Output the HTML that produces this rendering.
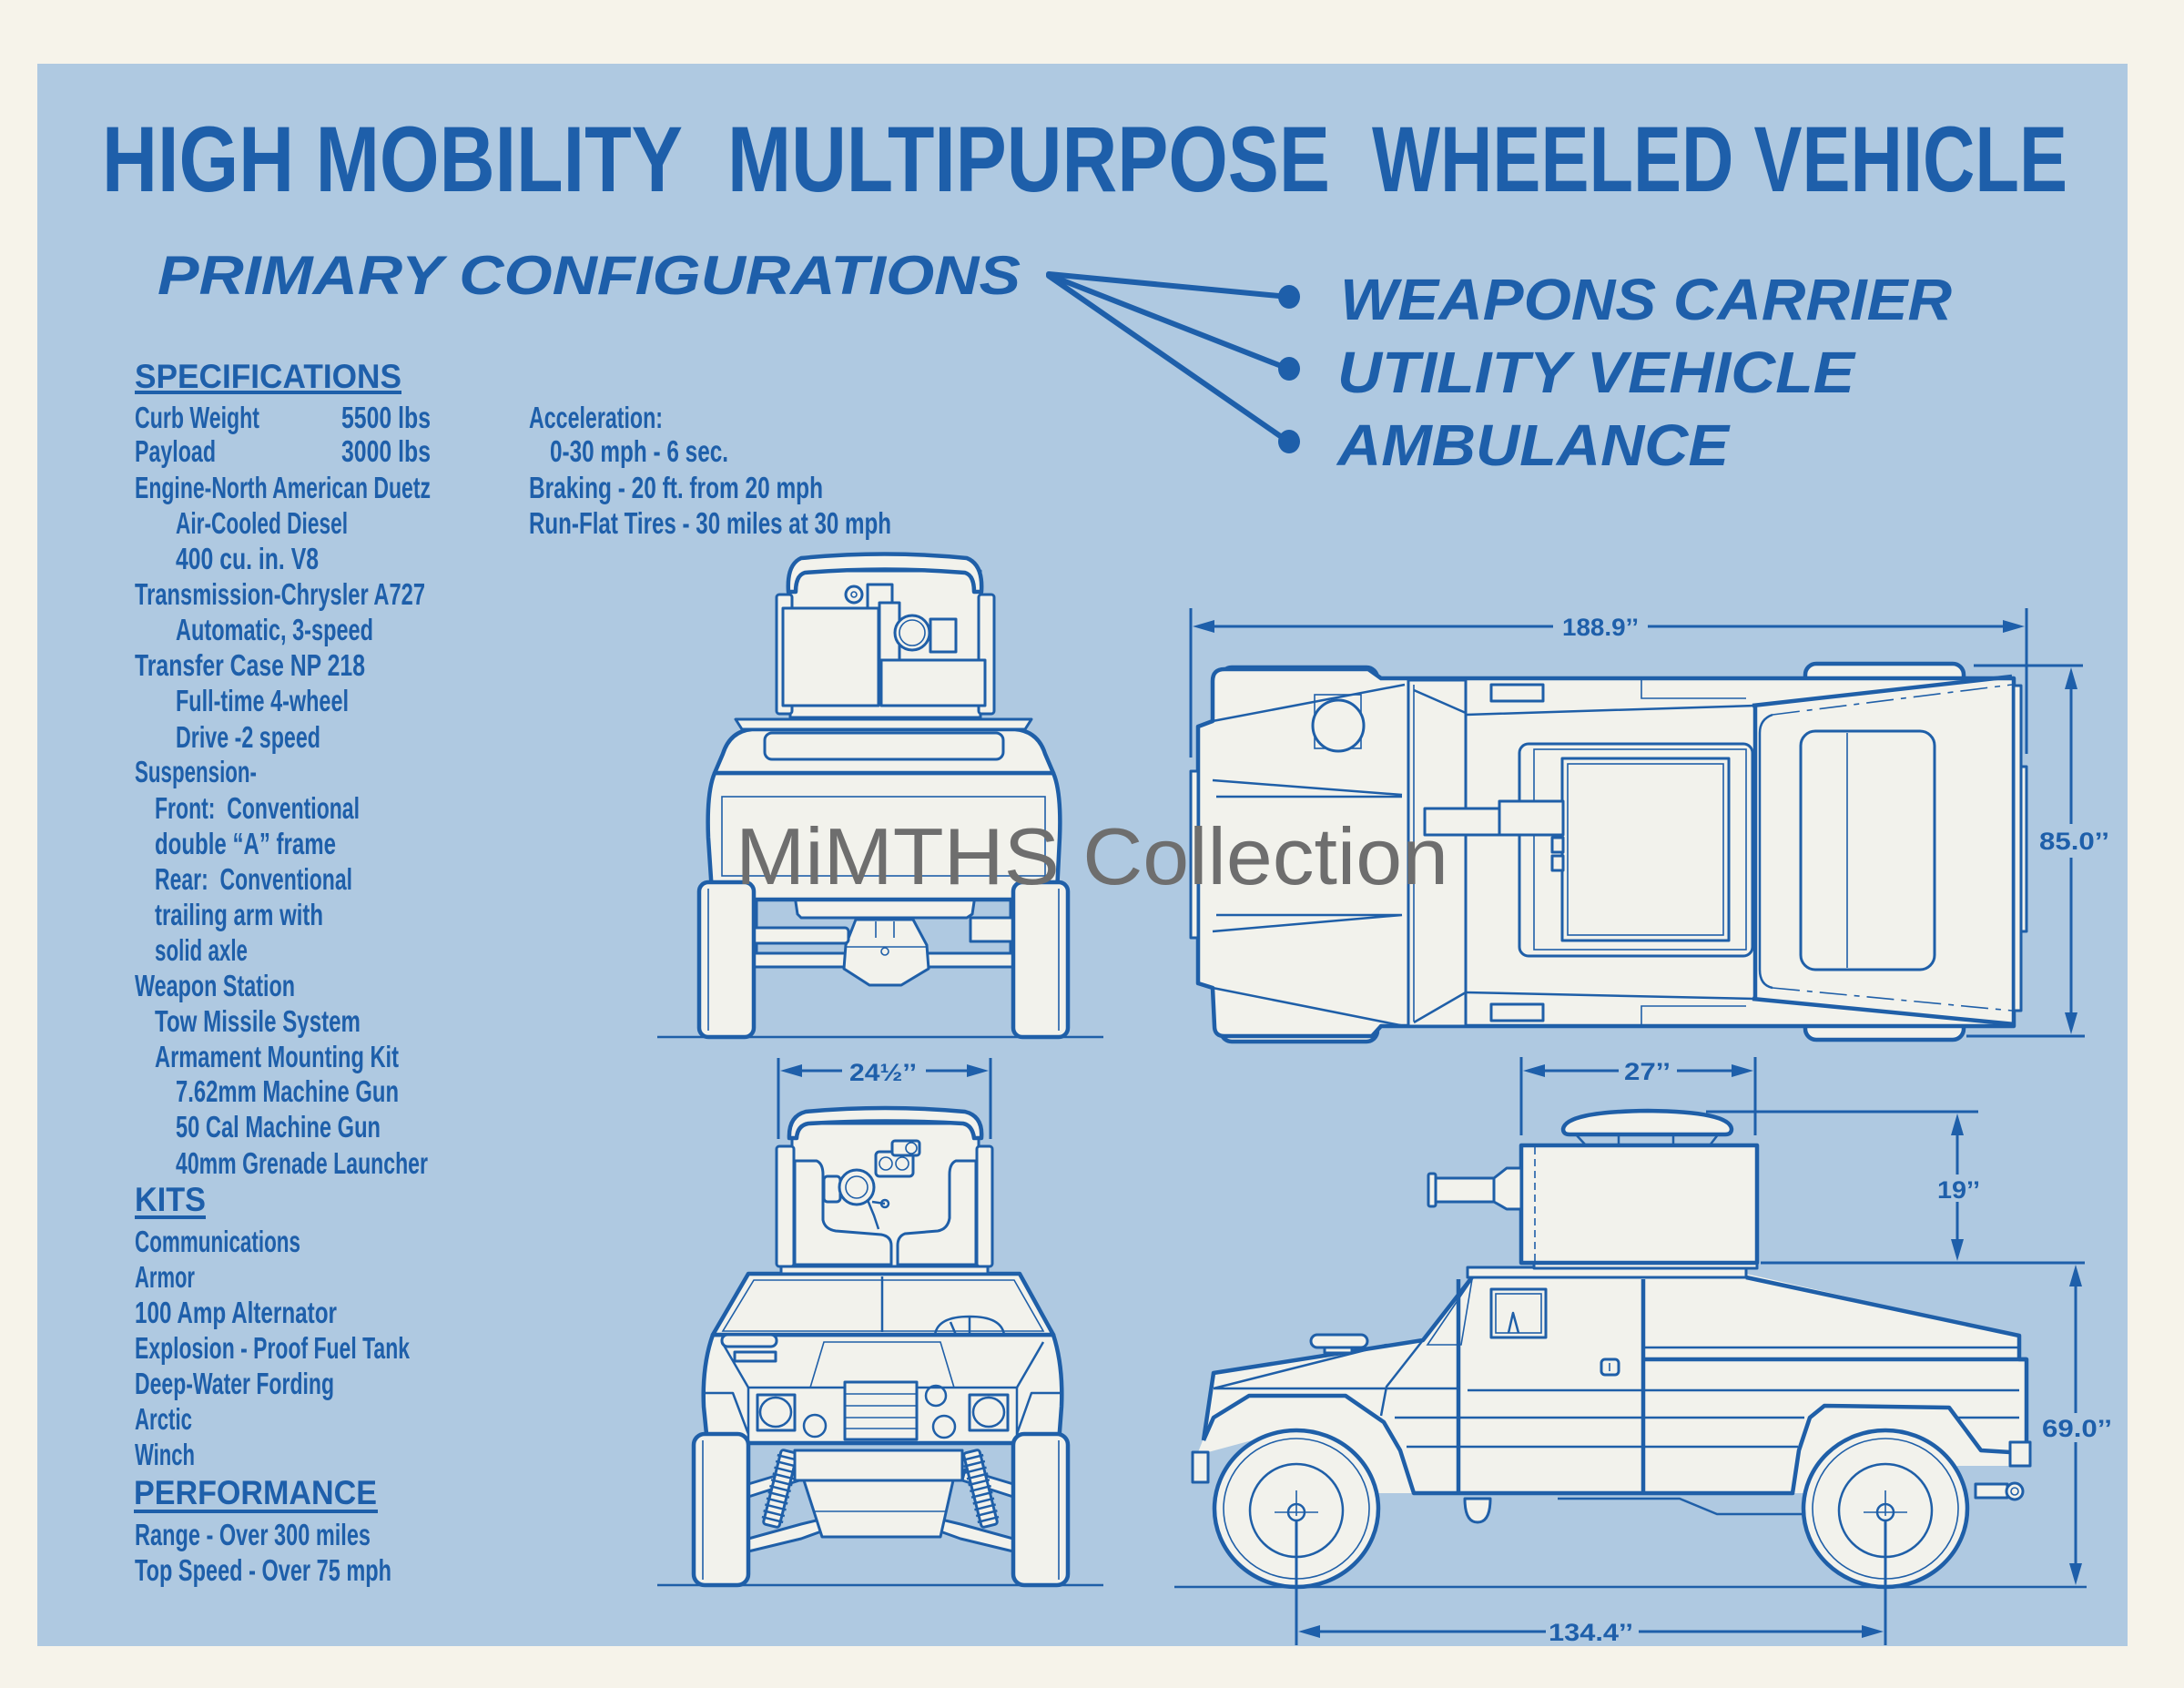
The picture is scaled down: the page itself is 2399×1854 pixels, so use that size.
<!DOCTYPE html>
<html><head><meta charset="utf-8"><title>High Mobility Multipurpose Wheeled Vehicle</title>
<style>
html,body{margin:0;padding:0;background:#f6f3ea;}
svg{display:block;}
text{font-family:"Liberation Sans",Arial,sans-serif;fill:#1e5faa;}
.o{fill:#f2f2ec;stroke:#1f5fa8;stroke-width:4.5;stroke-linejoin:round;}
.f{fill:#f2f2ec;stroke:#1f5fa8;stroke-width:3;stroke-linejoin:round;}
.d{fill:none;stroke:#1f5fa8;stroke-width:2.5;stroke-linejoin:round;}
.t{fill:none;stroke:#1f5fa8;stroke-width:1.6;}
.k{fill:none;stroke:#1f5fa8;stroke-width:4.5;stroke-linejoin:round;}
.w{fill:#f2f2ec;stroke:none;}
.ar{fill:#1e5faa;stroke:none;}
.dm{fill:none;stroke:#1e5faa;stroke-width:3;}
.sp text{font-weight:bold;font-size:33px;}
.hd{font-weight:bold;font-size:37px;}
.dt{font-weight:bold;font-size:27px;}
</style></head><body>
<svg width="2399" height="1854" viewBox="0 0 2399 1854" xmlns="http://www.w3.org/2000/svg">
<rect width="2399" height="1854" fill="#f6f3ea"/>
<rect x="41" y="70" width="2296" height="1738" fill="#afc9e1"/>

<!-- TITLE -->
<g font-weight="bold" font-size="102">
<text x="112" y="210" textLength="638" lengthAdjust="spacingAndGlyphs">HIGH MOBILITY</text>
<text x="799" y="210" textLength="662" lengthAdjust="spacingAndGlyphs">MULTIPURPOSE</text>
<text x="1507" y="210" textLength="764" lengthAdjust="spacingAndGlyphs">WHEELED VEHICLE</text>
</g>
<g font-weight="bold" font-style="italic">
<text x="173" y="323" font-size="60" textLength="948" lengthAdjust="spacingAndGlyphs">PRIMARY CONFIGURATIONS</text>
<text x="1472" y="351" font-size="64" textLength="672" lengthAdjust="spacingAndGlyphs">WEAPONS CARRIER</text>
<text x="1469" y="431" font-size="64" textLength="568" lengthAdjust="spacingAndGlyphs">UTILITY VEHICLE</text>
<text x="1469" y="511" font-size="64" textLength="430" lengthAdjust="spacingAndGlyphs">AMBULANCE</text>
</g>
<g stroke="#1e5faa" stroke-width="6" stroke-linecap="round" fill="none">
<line x1="1152" y1="301" x2="1415" y2="326"/>
<line x1="1152" y1="302" x2="1415" y2="405"/>
<line x1="1152" y1="303" x2="1415" y2="485"/>
</g>
<g fill="#1e5faa">
<ellipse cx="1416" cy="326" rx="12" ry="13"/>
<ellipse cx="1416" cy="405" rx="12" ry="13"/>
<ellipse cx="1416" cy="485" rx="12" ry="13"/>
</g>

<!-- SPECIFICATIONS -->
<text class="hd" x="148" y="426" textLength="293" lengthAdjust="spacingAndGlyphs">SPECIFICATIONS</text>
<rect x="148" y="429" width="293" height="4" fill="#1e5faa"/>
<g class="sp">
<text x="148" y="470" textLength="137" lengthAdjust="spacingAndGlyphs">Curb Weight</text>
<text x="375" y="470" textLength="98" lengthAdjust="spacingAndGlyphs">5500 lbs</text>
<text x="148" y="507" textLength="89" lengthAdjust="spacingAndGlyphs">Payload</text>
<text x="375" y="507" textLength="98" lengthAdjust="spacingAndGlyphs">3000 lbs</text>
<text x="148" y="547" textLength="325" lengthAdjust="spacingAndGlyphs">Engine-North American Duetz</text>
<text x="193" y="586" textLength="189" lengthAdjust="spacingAndGlyphs">Air-Cooled Diesel</text>
<text x="193" y="625" textLength="157" lengthAdjust="spacingAndGlyphs">400 cu. in. V8</text>
<text x="148" y="664" textLength="319" lengthAdjust="spacingAndGlyphs">Transmission-Chrysler A727</text>
<text x="193" y="703" textLength="217" lengthAdjust="spacingAndGlyphs">Automatic, 3-speed</text>
<text x="148" y="742" textLength="253" lengthAdjust="spacingAndGlyphs">Transfer Case NP 218</text>
<text x="193" y="781" textLength="190" lengthAdjust="spacingAndGlyphs">Full-time 4-wheel</text>
<text x="193" y="821" textLength="159" lengthAdjust="spacingAndGlyphs">Drive -2 speed</text>
<text x="148" y="859" textLength="134" lengthAdjust="spacingAndGlyphs">Suspension-</text>
<text x="170" y="899" textLength="225" lengthAdjust="spacingAndGlyphs" xml:space="preserve">Front:  Conventional</text>
<text x="170" y="938" textLength="199" lengthAdjust="spacingAndGlyphs">double “A” frame</text>
<text x="170" y="977" textLength="217" lengthAdjust="spacingAndGlyphs" xml:space="preserve">Rear:  Conventional</text>
<text x="170" y="1016" textLength="185" lengthAdjust="spacingAndGlyphs">trailing arm with</text>
<text x="170" y="1055" textLength="102" lengthAdjust="spacingAndGlyphs">solid axle</text>
<text x="148" y="1094" textLength="176" lengthAdjust="spacingAndGlyphs">Weapon Station</text>
<text x="170" y="1133" textLength="226" lengthAdjust="spacingAndGlyphs">Tow Missile System</text>
<text x="170" y="1172" textLength="268" lengthAdjust="spacingAndGlyphs">Armament Mounting Kit</text>
<text x="193" y="1210" textLength="245" lengthAdjust="spacingAndGlyphs">7.62mm Machine Gun</text>
<text x="193" y="1249" textLength="225" lengthAdjust="spacingAndGlyphs">50 Cal Machine Gun</text>
<text x="193" y="1289" textLength="277" lengthAdjust="spacingAndGlyphs">40mm Grenade Launcher</text>

<text x="581" y="470" textLength="147" lengthAdjust="spacingAndGlyphs">Acceleration:</text>
<text x="604" y="507" textLength="196" lengthAdjust="spacingAndGlyphs">0-30 mph - 6 sec.</text>
<text x="581" y="547" textLength="323" lengthAdjust="spacingAndGlyphs">Braking - 20 ft. from 20 mph</text>
<text x="581" y="586" textLength="398" lengthAdjust="spacingAndGlyphs">Run-Flat Tires - 30 miles at 30 mph</text>

<text x="148" y="1375" textLength="182" lengthAdjust="spacingAndGlyphs">Communications</text>
<text x="148" y="1414" textLength="66" lengthAdjust="spacingAndGlyphs">Armor</text>
<text x="148" y="1453" textLength="222" lengthAdjust="spacingAndGlyphs">100 Amp Alternator</text>
<text x="148" y="1492" textLength="302" lengthAdjust="spacingAndGlyphs">Explosion - Proof Fuel Tank</text>
<text x="148" y="1531" textLength="219" lengthAdjust="spacingAndGlyphs">Deep-Water Fording</text>
<text x="148" y="1570" textLength="63" lengthAdjust="spacingAndGlyphs">Arctic</text>
<text x="148" y="1609" textLength="66" lengthAdjust="spacingAndGlyphs">Winch</text>
<text x="148" y="1697" textLength="259" lengthAdjust="spacingAndGlyphs">Range - Over 300 miles</text>
<text x="148" y="1736" textLength="282" lengthAdjust="spacingAndGlyphs">Top Speed - Over 75 mph</text>
</g>
<text class="hd" x="148" y="1330" textLength="78" lengthAdjust="spacingAndGlyphs">KITS</text>
<rect x="148" y="1335" width="78" height="4" fill="#1e5faa"/>
<text class="hd" x="147" y="1652" textLength="267" lengthAdjust="spacingAndGlyphs">PERFORMANCE</text>
<rect x="147" y="1658" width="268" height="4" fill="#1e5faa"/>

<!-- ============ VIEW A: REAR VIEW (top-left) ============ -->
<line x1="722" y1="1139" x2="1212" y2="1139" stroke="#1f5fa8" stroke-width="2.5"/>
<rect class="f" x="826" y="1047" width="289" height="15"/>
<rect class="f" x="822" y="985" width="9" height="62"/>
<rect class="f" x="1110" y="985" width="9" height="62"/>
<path class="f" d="M940,1010 L1003,1010 L1018,1038 L1020,1064 L990,1082 L955,1082 L927,1064 L929,1038 Z"/>
<path class="t" d="M962,1012 V1030 M982,1012 V1030 M929,1040 H1018"/>
<circle class="t" cx="972" cy="1045" r="4"/>
<path class="f" d="M1066,1008 L1066,1034 L1114,1034 L1114,1008 Z"/>
<rect class="f" x="787" y="1019" width="145" height="17" rx="4"/>
<path class="f" d="M872,977 L1072,977 L1068,1004 L1062,1008 L880,1008 L876,1004 Z"/>
<path class="o" d="M785,849 L1157,849 Q1166,870 1164,920 L1161,980 Q1159,988 1150,988 L792,988 Q784,988 782,980 L778,920 Q776,870 785,849 Z"/>
<rect class="t" x="793" y="875" width="355" height="87"/>
<path class="o" d="M826,801 L1115,801 Q1140,803 1148,828 L1157,849 L785,849 L794,828 Q802,803 826,801 Z"/>
<rect class="f" x="840" y="805" width="262" height="29" rx="8"/>
<path class="f" d="M808,790 L1133,790 L1126,801 L815,801 Z"/>
<rect class="o" x="768" y="969" width="60" height="170" rx="10"/>
<rect class="o" x="1113" y="969" width="60" height="170" rx="10"/>
<line class="t" x1="778" y1="976" x2="778" y2="1132"/>
<line class="t" x1="1163" y1="976" x2="1163" y2="1132"/>
<!-- turret -->
<rect class="f" x="868" y="627" width="209" height="161"/>
<rect class="f" x="853" y="653" width="17" height="131" rx="3"/>
<rect class="f" x="1075" y="653" width="17" height="131" rx="3"/>
<path class="o" d="M866,650 Q864,620 880,613 Q972,604 1062,613 Q1080,620 1078,650 L1070,650 Q1070,632 1060,629 Q972,622 884,629 Q874,632 874,650 Z"/>
<rect class="f" x="860" y="668" width="105" height="107"/>
<rect class="f" x="968" y="725" width="114" height="50"/>
<rect class="f" x="953" y="642" width="27" height="26"/>
<circle class="f" cx="938" cy="653" r="9"/>
<circle class="t" cx="938" cy="653" r="3"/>
<rect class="f" x="966" y="662" width="22" height="63"/>
<circle class="f" cx="1002" cy="695" r="19"/>
<circle class="t" cx="1002" cy="695" r="14"/>
<rect class="f" x="1022" y="680" width="28" height="36"/>

<!-- ============ VIEW B: FRONT VIEW (bottom-left) ============ -->
<line x1="722" y1="1741" x2="1212" y2="1741" stroke="#1f5fa8" stroke-width="2.5"/>
<!-- dimension 24 1/2 -->
<line class="dm" x1="855" y1="1162" x2="855" y2="1251" stroke-width="2.5"/>
<line class="dm" x1="1088" y1="1162" x2="1088" y2="1251" stroke-width="2.5"/>
<line class="dm" x1="870" y1="1176" x2="925" y2="1176"/>
<line class="dm" x1="1017" y1="1176" x2="1075" y2="1176"/>
<polygon class="ar" points="857,1176 881,1169 881,1183"/>
<polygon class="ar" points="1086,1176 1062,1169 1062,1183"/>
<text class="dt" x="933" y="1187" font-size="28" textLength="74" lengthAdjust="spacingAndGlyphs">24½’’</text>
<!-- suspension -->
<path class="f" d="M822,1690 L880,1674 L905,1668 L905,1681 L880,1690 L822,1704 Z"/>
<path class="f" d="M1113,1690 L1055,1674 L1030,1668 L1030,1681 L1055,1690 L1113,1704 Z"/>
<path class="f" d="M822,1630 L875,1614 L878,1626 L822,1644 Z"/>
<path class="f" d="M1113,1630 L1060,1614 L1057,1626 L1113,1644 Z"/>
<g transform="translate(857,1635) rotate(14)">
<rect class="f" x="-9" y="-42" width="18" height="84" rx="3"/>
<path class="d" d="M-12,-35h24M-12,-28h24M-12,-21h24M-12,-14h24M-12,-7h24M-12,0h24M-12,7h24M-12,14h24M-12,21h24M-12,28h24M-12,35h24"/>
</g>
<g transform="translate(1077,1635) rotate(-14)">
<rect class="f" x="-9" y="-42" width="18" height="84" rx="3"/>
<path class="d" d="M-12,-35h24M-12,-28h24M-12,-21h24M-12,-14h24M-12,-7h24M-12,0h24M-12,7h24M-12,14h24M-12,21h24M-12,28h24M-12,35h24"/>
</g>
<path class="f" d="M883,1626 L1047,1626 L1033,1688 L903,1688 Z"/>
<line class="t" x1="893" y1="1660" x2="1040" y2="1660"/>
<!-- body -->
<path class="o" d="M783,1466 L1157,1466 Q1168,1500 1166,1545 L1163,1585 L777,1585 L773,1545 Q771,1500 783,1466 Z"/>
<path class="o" d="M822,1399 L1120,1399 L1157,1466 L783,1466 Z"/>
<path class="t" d="M828,1406 L1114,1406 L1146,1462 L794,1462 Z"/>
<line class="d" x1="969" y1="1402" x2="969" y2="1463"/>
<path class="d" d="M1027,1466 Q1030,1446 1065,1446 Q1100,1446 1103,1466 M1065,1446 V1466 M1044,1452 L1050,1466"/>
<rect class="f" x="793" y="1466" width="60" height="13" rx="6"/>
<rect class="f" x="807" y="1485" width="45" height="10"/>
<path class="t" d="M905,1474 L1033,1474 L1048,1524 L890,1524 Z"/>
<path class="d" d="M793,1474 L822,1524 M1146,1474 L1117,1524 M822,1524 H1117"/>
<path class="d" d="M773,1530 L805,1530 L822,1575 M1166,1530 L1133,1530 L1117,1575 M822,1524 V1585 M1117,1524 V1585 M822,1585 H1117"/>
<rect class="f" x="928" y="1518" width="79" height="63"/>
<path class="t" d="M928,1531 H1007 M928,1544 H1007 M928,1557 H1007 M928,1569 H1007"/>
<rect class="f" x="832" y="1532" width="41" height="39"/>
<ellipse class="d" cx="852" cy="1551" rx="17" ry="16"/>
<rect class="f" x="1065" y="1532" width="42" height="39"/>
<ellipse class="d" cx="1086" cy="1551" rx="17" ry="16"/>
<circle class="d" cx="895" cy="1566" r="12"/>
<circle class="d" cx="1037" cy="1567" r="12"/>
<circle class="d" cx="1028" cy="1533" r="11"/>
<rect class="f" x="873" y="1593" width="184" height="33"/>
<rect class="o" x="762" y="1575" width="60" height="166" rx="12"/>
<rect class="o" x="1113" y="1575" width="60" height="166" rx="12"/>
<line class="t" x1="772" y1="1582" x2="772" y2="1735"/>
<line class="t" x1="1163" y1="1582" x2="1163" y2="1735"/>
<!-- turret -->
<rect class="f" x="858" y="1391" width="227" height="8"/>
<rect class="f" x="870" y="1234" width="205" height="157"/>
<rect class="f" x="853" y="1259" width="19" height="132" rx="3"/>
<rect class="f" x="1073" y="1259" width="17" height="132" rx="3"/>
<path class="o" d="M867,1250 Q866,1226 885,1221 Q972,1213 1060,1221 Q1080,1226 1078,1250 L1070,1250 Q1068,1236 1058,1234 Q972,1229 888,1234 Q876,1236 875,1250 Z"/>
<path class="f" d="M873,1275 L897,1275 Q904,1278 904,1290 L904,1340 Q906,1350 918,1352 L968,1356 Q979,1358 979,1368 L979,1389 L873,1389 Z"/>
<path class="f" d="M1072,1275 L1050,1275 Q1043,1278 1043,1290 L1043,1338 Q1041,1350 1030,1352 L994,1355 Q986,1358 986,1368 L986,1389 L1072,1389 Z"/>
<rect class="f" x="905" y="1292" width="18" height="28" rx="4"/>
<circle class="f" cx="941" cy="1304" r="19"/>
<circle class="t" cx="941" cy="1304" r="12"/>
<path class="d" d="M953,1318 L960,1335 L965,1350 M958,1320 L972,1322"/>
<circle class="d" cx="972" cy="1322" r="4"/>
<rect class="f" x="962" y="1265" width="41" height="27" rx="4"/>
<circle class="t" cx="973" cy="1278" r="7"/>
<circle class="t" cx="991" cy="1278" r="7"/>
<rect class="f" x="980" y="1253" width="30" height="16" rx="3"/>
<circle class="t" cx="1001" cy="1261" r="6"/>

<!-- ============ VIEW C: TOP VIEW (top-right) ============ -->
<line class="dm" x1="1308" y1="668" x2="1308" y2="832" stroke-width="2.5"/>
<line class="dm" x1="2226" y1="668" x2="2226" y2="828" stroke-width="2.5"/>
<line class="dm" x1="1320" y1="688" x2="1706" y2="688"/>
<line class="dm" x1="1810" y1="688" x2="2214" y2="688"/>
<polygon class="ar" points="1310,688 1334,681 1334,695"/>
<polygon class="ar" points="2224,688 2200,681 2200,695"/>
<text class="dt" x="1716" y="698" font-size="26" textLength="84" lengthAdjust="spacingAndGlyphs">188.9’’</text>
<!-- 85.0 -->
<line class="dm" x1="2168" y1="731" x2="2288" y2="731" stroke-width="2.5"/>
<line class="dm" x1="2160" y1="1138" x2="2290" y2="1138" stroke-width="2.5"/>
<line class="dm" x1="2275" y1="745" x2="2275" y2="905"/>
<line class="dm" x1="2275" y1="942" x2="2275" y2="1124"/>
<polygon class="ar" points="2275,733 2268,757 2282,757"/>
<polygon class="ar" points="2275,1136 2268,1112 2282,1112"/>
<text class="dt" x="2240" y="933" font-size="29" textLength="77" lengthAdjust="spacingAndGlyphs">85.0’’</text>
<!-- wheels -->
<rect class="o" x="1341" y="733" width="172" height="30" rx="12"/>
<rect class="o" x="1341" y="1113" width="172" height="31" rx="12"/>
<rect class="o" x="1983" y="729" width="174" height="30" rx="12"/>
<rect class="o" x="1983" y="1112" width="174" height="30" rx="12"/>
<!-- body -->
<path class="o" d="M1345,735 L1503,735 L1517,745 L2212,745 L2212,1127 L1517,1127 L1507,1138 L1345,1138 Q1334,1138 1334,1127 L1332,1085 L1316,1080 L1316,798 L1332,792 L1332,748 Q1332,735 1345,735 Z"/>
<rect class="f" x="1308" y="847" width="8" height="183"/>
<rect class="f" x="2212" y="753" width="8" height="357"/>
<rect class="f" x="2220" y="842" width="6" height="181"/>
<path class="d" d="M1332,792 L1543,752 M1332,857 L1540,873 M1336,875 H1540 M1336,1005 H1540 M1332,1023 L1540,1005 M1332,1085 L1543,1127"/>
<rect class="t" x="1444" y="763" width="51" height="59"/>
<circle class="f" cx="1470" cy="797" r="28"/>
<!-- windshield -->
<rect class="f" x="1547" y="747" width="63" height="380"/>
<line class="t" x1="1553" y1="752" x2="1553" y2="1122"/>
<path class="d" d="M1553,758 L1610,783 M1553,1123 L1610,1090"/>
<!-- cabin -->
<path class="d" d="M1610,785 L1928,775 M1610,1090 L1928,1097"/>
<path class="t" d="M1803,745 V767 H1918 M1803,1127 V1105 H1918"/>
<rect class="f" x="1638" y="752" width="57" height="18"/>
<rect class="f" x="1638" y="1103" width="57" height="18"/>
<rect class="f" x="1669" y="817" width="256" height="233" rx="10"/>
<rect class="t" x="1685" y="823" width="233" height="220"/>
<rect class="f" x="1716" y="833" width="183" height="200" stroke-width="3.5"/>
<rect class="t" x="1722" y="839" width="171" height="188"/>
<rect class="f" x="1565" y="888" width="82" height="29"/>
<rect class="f" x="1647" y="880" width="70" height="37"/>
<rect class="f" x="1705" y="920" width="12" height="16"/>
<rect class="f" x="1705" y="940" width="12" height="16"/>
<!-- rear section -->
<path class="k" d="M1925,775 L2210,743 M1925,1097 L2213,1125 M1928,775 V1097"/>
<path class="d" d="M1947,785 Q1933,790 1933,805 L1933,1065 Q1933,1082 1947,1085"/>
<path class="t" d="M1947,785 L2210,752 M1947,1085 L2210,1110" stroke-dasharray="30 8 6 8"/>
<rect class="f" x="1978" y="803" width="147" height="262" rx="16"/>
<line class="t" x1="2029" y1="805" x2="2029" y2="1063"/>

<!-- ============ VIEW D: SIDE VIEW (bottom-right) ============ -->
<line x1="1290" y1="1743" x2="2292" y2="1743" stroke="#1f5fa8" stroke-width="2.5"/>
<!-- 27 dim -->
<line class="dm" x1="1671" y1="1161" x2="1671" y2="1247" stroke-width="2.5"/>
<line class="dm" x1="1928" y1="1161" x2="1928" y2="1247" stroke-width="2.5"/>
<line class="dm" x1="1685" y1="1176" x2="1778" y2="1176"/>
<line class="dm" x1="1842" y1="1176" x2="1914" y2="1176"/>
<polygon class="ar" points="1673,1176 1697,1169 1697,1183"/>
<polygon class="ar" points="1926,1176 1902,1169 1902,1183"/>
<text class="dt" x="1784" y="1186" textLength="51" lengthAdjust="spacingAndGlyphs">27’’</text>
<!-- 19 dim -->
<line class="dm" x1="1874" y1="1221" x2="2173" y2="1221" stroke-width="2.5"/>
<line class="dm" x1="1934" y1="1387" x2="2290" y2="1387" stroke-width="2.5"/>
<line class="dm" x1="2150" y1="1235" x2="2150" y2="1290"/>
<line class="dm" x1="2150" y1="1320" x2="2150" y2="1373"/>
<polygon class="ar" points="2150,1223 2143,1247 2157,1247"/>
<polygon class="ar" points="2150,1385 2143,1361 2157,1361"/>
<text class="dt" x="2128" y="1316" font-size="29" textLength="47" lengthAdjust="spacingAndGlyphs">19’’</text>
<!-- 69.0 dim -->
<line class="dm" x1="2280" y1="1403" x2="2280" y2="1552"/>
<line class="dm" x1="2280" y1="1584" x2="2280" y2="1727"/>
<polygon class="ar" points="2280,1389 2273,1413 2287,1413"/>
<polygon class="ar" points="2280,1741 2273,1717 2287,1717"/>
<text class="dt" x="2243" y="1578" font-size="29" textLength="77" lengthAdjust="spacingAndGlyphs">69.0’’</text>
<!-- 134.4 dim -->
<line class="dm" x1="1424" y1="1665" x2="1424" y2="1807" stroke-width="2.5"/>
<line class="dm" x1="2071" y1="1665" x2="2071" y2="1807" stroke-width="2.5"/>
<line class="dm" x1="1440" y1="1792" x2="1698" y2="1792"/>
<line class="dm" x1="1800" y1="1792" x2="2055" y2="1792"/>
<polygon class="ar" points="1426,1792 1450,1785 1450,1799"/>
<polygon class="ar" points="2069,1792 2045,1785 2045,1799"/>
<text class="dt" x="1701" y="1802" textLength="93" lengthAdjust="spacingAndGlyphs">134.4’’</text>
<!-- underbody -->
<path class="f" d="M1609,1646 Q1609,1672 1623,1672 Q1637,1672 1637,1646 Z"/>
<path class="d" d="M1711,1646 L1845,1646 L1886,1663 L1982,1663"/>
<rect class="f" x="2170" y="1630" width="35" height="15"/>
<circle class="f" cx="2213" cy="1638" r="9"/>
<circle class="t" cx="2213" cy="1638" r="4"/>
<!-- body fill -->
<path class="w" d="M1333,1508 L1563,1472 L1620,1399 L1918,1399 L2218,1467 L2218,1493 L2226,1493 L2226,1610 L2150,1610 L2130,1640 L1553,1640 L1500,1640 L1420,1570 L1327,1595 L1316,1595 L1322,1580 Z"/>
<!-- body outlines -->
<path class="k" d="M1322,1582 L1333,1508 L1563,1472 L1620,1399"/>
<path class="k" d="M1918,1403 L2218,1467 L2218,1493 L2226,1493 L2226,1584"/>
<path class="k" d="M1322,1582 L1333,1557 L1372,1533 L1478,1533 L1520,1562 L1538,1593 L1553,1640 L1969,1640 L1976,1593 L1988,1557 L2004,1544 L2141,1546 L2176,1593 L2208,1595"/>
<rect class="f" x="1310" y="1595" width="17" height="33"/>
<rect class="f" x="2208" y="1584" width="22" height="26"/>
<path class="d" d="M1333,1525 L1523,1477 M1333,1525 H1602 M1563,1472 L1523,1523 L1517,1555"/>
<path class="t" d="M1568,1477 L1617,1405 L1605,1477 Z"/>
<path class="d" d="M1612,1527 H2218 M1532,1557 H1982 M2150,1557 H2218 M1545,1589 H1975"/>
<path class="d" d="M1805,1480 H2218"/>
<path class="k" d="M1805,1493 H2226" stroke-width="3.5"/>
<path class="k" d="M1602,1405 V1640 M1805,1405 V1640" stroke-width="3"/>
<rect class="f" x="1638" y="1416" width="60" height="53"/>
<rect class="t" x="1643" y="1421" width="50" height="43"/>
<path class="d" d="M1657,1464 L1662,1442 L1668,1464"/>
<rect class="f" x="1759" y="1493" width="19" height="17" rx="4"/>
<line class="t" x1="1768" y1="1497" x2="1768" y2="1506"/>
<rect class="f" x="1455" y="1476" width="30" height="10"/>
<rect class="f" x="1440" y="1466" width="62" height="14" rx="7"/>
<!-- turret side -->
<rect class="f" x="1612" y="1392" width="306" height="11"/>
<rect class="f" x="1685" y="1385" width="245" height="8"/>
<rect class="o" x="1671" y="1258" width="259" height="129"/>
<line class="t" x1="1686" y1="1260" x2="1686" y2="1385" stroke-dasharray="8 5"/>
<path class="d" d="M1730,1245 L1742,1258 M1888,1245 L1878,1258 M1778,1245 V1258 M1838,1245 V1258"/>
<path class="o" d="M1717,1240 Q1720,1221 1810,1220 Q1900,1221 1902,1240 Q1902,1246 1895,1246 L1724,1246 Q1717,1246 1717,1240 Z"/>
<rect class="f" x="1577" y="1294" width="64" height="26"/>
<rect class="f" x="1569" y="1289" width="8" height="36" rx="2"/>
<path class="f" d="M1641,1294 L1655,1283 L1671,1283 L1671,1328 L1655,1328 L1641,1320 Z"/>
<!-- wheels -->
<ellipse class="o" cx="1424" cy="1657" rx="90" ry="86"/>
<ellipse class="t" cx="1424" cy="1657" rx="80" ry="77"/>
<circle class="d" cx="1424" cy="1659" r="51"/>
<circle class="d" cx="1424" cy="1661" r="9"/>
<path class="t" d="M1400,1661 H1448 M1424,1637 V1665"/>
<ellipse class="o" cx="2071" cy="1657" rx="90" ry="86"/>
<ellipse class="t" cx="2071" cy="1657" rx="80" ry="77"/>
<circle class="d" cx="2071" cy="1659" r="51"/>
<circle class="d" cx="2071" cy="1661" r="9"/>
<path class="t" d="M2047,1661 H2095 M2071,1637 V1665"/>
<line class="dm" x1="1424" y1="1670" x2="1424" y2="1807" stroke-width="2.5"/>
<line class="dm" x1="2071" y1="1670" x2="2071" y2="1807" stroke-width="2.5"/>

<!-- WATERMARK -->
<text x="808" y="971" font-size="88" textLength="783" lengthAdjust="spacingAndGlyphs" style="fill:#6e6e6e">MiMTHS Collection</text>
</svg>
</body></html>
